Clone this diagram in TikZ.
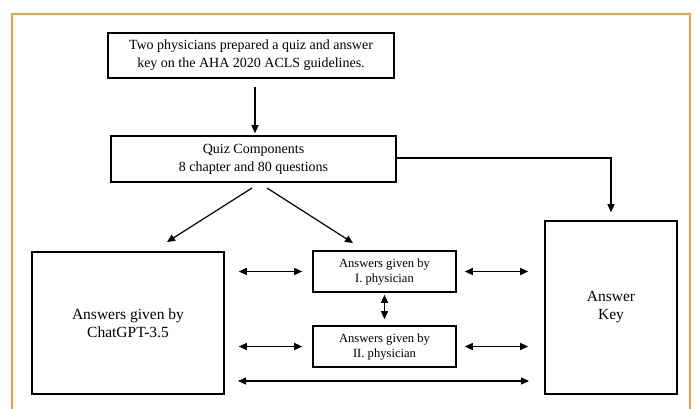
\documentclass[tikz,border=0pt]{standalone}
\usepackage{fontspec}
\setmainfont{Liberation Serif}
\usetikzlibrary{arrows.meta}
\definecolor{frameorange}{HTML}{F5A032}
\begin{document}
\begin{tikzpicture}[x=1pt,y=-1pt,
  box/.style={draw=black,line width=1.6pt,inner sep=0pt,align=center},
  arr/.style={draw=black,line width=1.2pt,-{Triangle[length=8pt,width=7pt]}},
  darr/.style={draw=black,line width=1.2pt,{Triangle[length=8pt,width=7pt]}-{Triangle[length=8pt,width=7pt]}},
  bigtxt/.style={font=\fontsize{14}{18}\selectfont},
  hugetxt/.style={font=\fontsize{15.5}{18}\selectfont},
  smalltxt/.style={font=\fontsize{12.6}{15}\selectfont}]
\useasboundingbox (0,0) rectangle (696,408);
\draw[frameorange,line width=2.6pt] (12,412) -- (12,14) -- (690,14) -- (690,412);

\node[box,bigtxt,minimum width=286pt,minimum height=45pt] (b1) at (251,55.5)
  {Two physicians prepared a quiz and answer\\key on the AHA 2020 ACLS guidelines.};
\node[box,bigtxt,minimum width=285pt,minimum height=46pt] (b2) at (253.5,159)
  {Quiz Components\\8 chapter and 80 questions};
\node[box,hugetxt,minimum width=192pt,minimum height=142pt] (chat) at (128,323)
  {Answers given by\\ChatGPT-3.5};
\node[box,hugetxt,minimum width=132pt,minimum height=173pt] (key) at (611,307.5)
  {Answer\\Key};
\node[box,smalltxt,minimum width=143pt,minimum height=41pt] (p1) at (384.5,271.5)
  {Answers given by\\I. physician};
\node[box,smalltxt,minimum width=143pt,minimum height=41pt] (p2) at (384.5,346.5)
  {Answers given by\\II. physician};

\coordinate (d1s) at (252,188);
\coordinate (d1e) at (167,242);
\coordinate (d2s) at (267,188);
\coordinate (d2e) at (353,243);
\coordinate (bl) at (238,381);
\coordinate (br) at (529,381);

\draw[arr,shorten <=8pt,shorten >=2pt] (b1.south -| 255,0) -- (b2.north -| 255,0);
\draw[arr,shorten >=8pt] (b2.east |- 0,158) -| (key.north);
\draw[arr] (d1s) -- (d1e);
\draw[arr] (d2s) -- (d2e);
\draw[darr,shorten <=14pt,shorten >=10pt] (chat.east |- p1.west) -- (p1.west);
\draw[darr,shorten <=14pt,shorten >=10pt] (chat.east |- p2.west) -- (p2.west);
\draw[darr,shorten <=8pt,shorten >=16pt] (p1.east) -- (key.west |- p1.east);
\draw[darr,shorten <=8pt,shorten >=16pt] (p2.east) -- (key.west |- p2.east);
\draw[darr,shorten <=2pt,shorten >=6pt] (p1.south) -- (p2.north);
\draw[darr] (bl) -- (br);
\end{tikzpicture}
\end{document}
